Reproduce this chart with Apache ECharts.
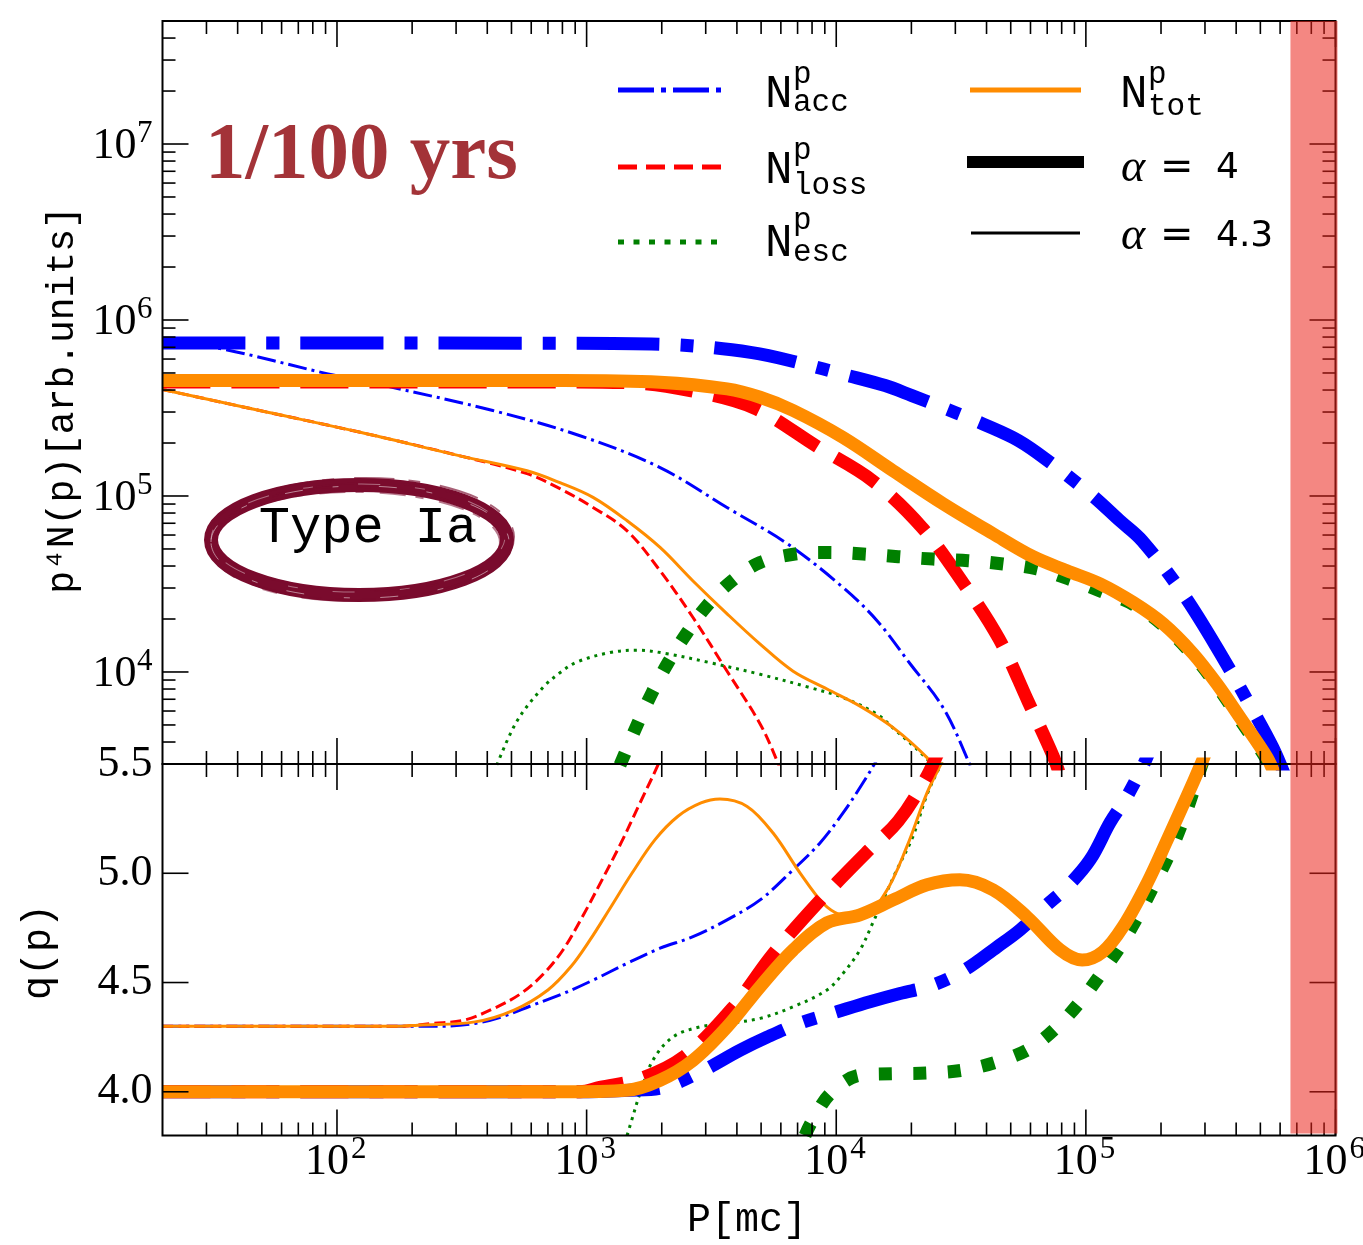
<!DOCTYPE html>
<html>
<head>
<meta charset="utf-8">
<title>Proton spectrum and slope, Type Ia remnant</title>
<script src="https://cdn.jsdelivr.net/npm/echarts@6/dist/echarts.min.js"></script>
<style>
html, body { margin: 0; padding: 0; background: #ffffff; }
#chart { width: 1363px; height: 1245px; }
</style>
</head>
<body>
<div id="chart"></div>
<script>
// ---------- axes ----------
const momentumRange = [20, 1e6];
const spectrumRange = [3e3, 5e7];
const slopeRange = [3.8, 5.5];
const momentumTicks = [1e2, 1e3, 1e4, 1e5, 1e6];
const momentumTickExp = ['2', '3', '4', '5', '6'];
const spectrumTicks = [1e4, 1e5, 1e6, 1e7];
const spectrumTickExp = ['4', '5', '6', '7'];
const slopeTicks = [4.0, 4.5, 5.0, 5.5];
const slopeTickLabels = ['4.0', '4.5', '5.0', '5.5'];
const cutoffBand = [6.6e5, 1e6];

// ---------- p^4 N(p), alpha = 4 ----------
const accSpecA4 = [[20,7.4e5],[800,7.38e5],[2100,7.26e5],[4600,6.53e5],[7360,5.64e5],[10750,4.9e5],[15700,4.24e5],[20100,3.72e5],[25400,3.27e5],[36000,2.68e5],[51000,2.15e5],[63700,1.76e5],[104000,1.03e5],[137000,7.23e4],[168000,5.57e4],[245000,2.78e4],[345000,1.28e4],[468000,6.0e3],[562000,3.7e3],[628000,2.56e3]];
const lossSpecA4 = [[20,4.45e5],[800,4.45e5],[1500,4.4e5],[2600,3.97e5],[4690,3.16e5],[8375,1.91e5],[14000,1.22e5],[22100,6.6e4],[32200,3.21e4],[44900,1.54e4],[58700,6.8e3],[73900,3.33e3],[78900,2.57e3]];
const escSpecA4 = [[1361,2.96e3],[1608,5.16e3],[1830,7.64e3],[2120,1.13e4],[2525,1.67e4],[3035,2.38e4],[3825,3.3e4],[4955,4.19e4],[6840,4.68e4],[9270,4.78e4],[12800,4.68e4],[17700,4.52e4],[24400,4.38e4],[33800,4.29e4],[46600,4.11e4],[63700,3.85e4],[84800,3.39e4],[114000,2.89e4],[155000,2.42e4],[204000,1.84e4],[269000,1.24e4],[336000,8.3e3],[415000,5.35e3],[532000,3.15e3],[573000,2.5e3]];
const totSpecA4 = [[20,4.53e5],[800,4.53e5],[1968,4.43e5],[3655,4.06e5],[4955,3.64e5],[6718,3.06e5],[10650,2.15e5],[16900,1.39e5],[26800,9.04e4],[42500,6.1e4],[61400,4.52e4],[84000,3.76e4],[114000,3.17e4],[155000,2.48e4],[204000,1.88e4],[269000,1.27e4],[336000,8.5e3],[415000,5.5e3],[532000,3.26e3],[573000,2.57e3]];

// ---------- p^4 N(p), alpha = 4.3 ----------
const accSpecA43 = [[20,7.48e5],[34,6.88e5],[91,4.96e5],[168,4.13e5],[421,3.06e5],[941,2.2e5],[1970,1.45e5],[3650,8.6e4],[6360,5.36e4],[10650,3.02e4],[14600,1.95e4],[19800,1.11e4],[26800,6.27e3],[33800,3.12e3],[36000,2.4e3]];
const lossSpecA43 = [[20,4.03e5],[49,3.06e5],[124,2.3e5],[311,1.69e5],[577,1.34e5],[782,1.1e5],[1061,8.61e4],[1453,6.34e4],[1969,3.76e4],[2668,2.04e4],[3654,1.01e4],[4955,5.07e3],[5797,3.12e3],[6060,2.57e3]];
const escSpecA43 = [[437,2.96e3],[526,5.26e3],[668,8.15e3],[782,9.9e3],[915,1.14e4],[1241,1.29e4],[1592,1.33e4],[2100,1.27e4],[3119,1.13e4],[4955,9.7e3],[7854,8.15e3],[10650,7.15e3],[14600,5.75e3],[16900,4.8e3],[23100,3.2e3],[24900,2.7e3]];
const totSpecA43 = [[20,4.03e5],[49,3.06e5],[124,2.3e5],[311,1.69e5],[577,1.39e5],[782,1.19e5],[1061,9.82e4],[1453,7.23e4],[1969,5.1e4],[2668,3.29e4],[3654,2.14e4],[4955,1.44e4],[6718,1.01e4],[9184,8.0e3],[12450,6.4e3],[16900,4.83e3],[23100,3.26e3],[24900,2.74e3]];

// ---------- local slope q(p), alpha = 4 ----------
const accSlopeA4 = [[20,4.0],[941,4.0],[1493,4.007],[1969,4.016],[2845,4.09],[4117,4.19],[5283,4.25],[7166,4.314],[10070,4.366],[13650,4.412],[18000,4.45],[23800,4.484],[32200,4.553],[44100,4.663],[54500,4.741],[69900,4.856],[84100,4.938],[104000,5.062],[125000,5.232],[146000,5.351],[169000,5.489],[181000,5.567]];
const lossSlopeA4 = [[20,4.0],[941,4.0],[1130,4.02],[1640,4.06],[2430,4.157],[3830,4.382],[5585,4.631],[8450,4.866],[13150,5.093],[17700,5.238],[22700,5.429],[26000,5.57]];
const escSlopeA4 = [[7500,3.8],[7960,3.861],[9485,3.992],[12450,4.076],[16980,4.083],[23500,4.086],[32200,4.099],[44100,4.137],[59700,4.198],[76700,4.297],[94800,4.412],[114000,4.534],[137000,4.664],[160000,4.794],[186000,4.939],[217000,5.093],[254000,5.29],[290000,5.49],[302000,5.544]];
const totSlopeA4 = [[20,4.0],[800,4.0],[1453,4.007],[1969,4.053],[2668,4.144],[3654,4.297],[4955,4.481],[6718,4.649],[9184,4.773],[12450,4.81],[16900,4.878],[23100,4.947],[31300,4.97],[42500,4.924],[58100,4.8],[78900,4.649],[96600,4.603],[117000,4.641],[141000,4.756],[176000,4.955],[212000,5.154],[254000,5.352],[287000,5.49],[300000,5.544]];

// ---------- local slope q(p), alpha = 4.3 ----------
const accSlopeA43 = [[20,4.3],[259,4.3],[357,4.313],[458,4.343],[610,4.397],[782,4.443],[1061,4.511],[1453,4.588],[1969,4.657],[2668,4.71],[3654,4.787],[4955,4.878],[6718,5.016],[8611,5.139],[10650,5.276],[12800,5.414],[14580,5.521],[15300,5.567]];
const lossSlopeA43 = [[20,4.3],[179,4.3],[243,4.313],[323,4.328],[426,4.382],[546,4.45],[675,4.542],[804,4.649],[963,4.802],[1153,4.97],[1374,5.139],[1637,5.322],[1950,5.506],[2024,5.557]];
const escSlopeA43 = [[1453,3.8],[1536,3.892],[1637,3.993],[1845,4.145],[2218,4.251],[2845,4.297],[3654,4.313],[4955,4.336],[6718,4.389],[9184,4.466],[10650,4.542],[12450,4.649],[14000,4.772],[15400,4.878],[17500,5.016],[20300,5.169],[23100,5.36],[26800,5.521],[27800,5.567]];
const totSlopeA43 = [[20,4.3],[179,4.3],[211,4.305],[357,4.32],[512,4.374],[700,4.466],[866,4.573],[1032,4.695],[1231,4.833],[1521,5.001],[1880,5.154],[2323,5.261],[2872,5.322],[3421,5.34],[4395,5.306],[5585,5.184],[7166,5.001],[8855,4.863],[10350,4.81],[12450,4.796],[15700,4.909],[19200,5.123],[23100,5.368],[26800,5.521],[27800,5.567]];

// ---------- styling ----------
const BLUE = '#0000ff', RED = '#ff0000', GREEN = '#008000', ORANGE = '#ff8c00';
const SERIF = "'Liberation Serif', 'DejaVu Serif', serif";
const MONO = "'Liberation Mono', 'DejaVu Sans Mono', monospace";
const SANS = "'DejaVu Sans', 'Liberation Sans', sans-serif";
const BADGE = '#7a0b2d';
const THICK = 13, THIN = 3;
const dashThick = { acc: [83, 21, 13, 21], loss: [48, 21], esc: [13, 21.5], tot: 'solid' };
const dashThin = { acc: [19, 5, 3, 5], loss: [11, 5], esc: [3, 5], tot: 'solid' };

function logMinors(range) {
  const out = [];
  const e0 = Math.floor(Math.log10(range[0])), e1 = Math.ceil(Math.log10(range[1]));
  for (let e = e0; e <= e1; e++) {
    for (let k = 2; k <= 9; k++) {
      const v = k * Math.pow(10, e);
      if (v > range[0] * 1.0001 && v < range[1] * 0.9999) out.push(v);
    }
  }
  return out;
}

function curve(name, data, grid, color, width, type) {
  return {
    name, type: 'line', data, xAxisIndex: grid, yAxisIndex: grid,
    showSymbol: false, symbol: 'none', smooth: 0.35,
    clip: true, silent: true, z: 2,
    lineStyle: { color, width, type, cap: 'butt', join: 'round' }
  };
}

// frame, inward ticks on all four sides and tick labels
function frameRenderer(cfg) {
  return function (params, api) {
    const cs = params.coordSys;
    const L = cs.x, R = cs.x + cs.width, T = cs.y, B = cs.y + cs.height;
    const kids = [];
    const seg = (x1, y1, x2, y2) => kids.push({ type: 'line', shape: { x1, y1, x2, y2 }, style: { stroke: '#000', lineWidth: 1.6 } });
    const txt = (text, x, y, size, align) => kids.push({
      type: 'text',
      style: { text, x, y, fill: '#000', font: size + 'px ' + SERIF, align, textAlign: align, verticalAlign: 'middle', textVerticalAlign: 'middle' }
    });
    const px = v => api.coord([v, cfg.yRef])[0];
    const py = v => api.coord([cfg.xRef, v])[1];
    cfg.xMajor.forEach(v => { const x = px(v); seg(x, B, x, B - 26); seg(x, T, x, T + 26); });
    cfg.xMinor.forEach(v => { const x = px(v); seg(x, B, x, B - 13); seg(x, T, x, T + 13); });
    cfg.yMajor.forEach(v => { const y = py(v); seg(L, y, L + 26, y); seg(R, y, R - 26, y); });
    cfg.yMinor.forEach(v => { const y = py(v); seg(L, y, L + 13, y); seg(R, y, R - 13, y); });
    kids.push({ type: 'rect', shape: { x: L, y: T, width: cs.width, height: cs.height }, style: { fill: 'none', stroke: '#000', lineWidth: 2 } });
    if (cfg.yExp) cfg.yMajor.forEach((v, i) => { const y = py(v); txt('10', L - 26, y + 2, 44, 'right'); txt(cfg.yExp[i], L - 10, y - 10, 31, 'right'); });
    if (cfg.yText) cfg.yMajor.forEach((v, i) => txt(cfg.yText[i], L - 10, py(v), 44, 'right'));
    if (cfg.xExp) cfg.xMajor.forEach((v, i) => { const x = px(v); txt('10', x + 12, B + 27, 44, 'right'); txt(cfg.xExp[i], x + 14, B + 14, 31, 'left'); });
    return { type: 'group', children: kids };
  };
}

function bandRenderer(yRef, trimBottom) {
  return function (params, api) {
    const cs = params.coordSys;
    const x0 = api.coord([cutoffBand[0], yRef])[0];
    const x1 = api.coord([cutoffBand[1], yRef])[0];
    return { type: 'rect', shape: { x: x0, y: cs.y, width: x1 - x0 + 2, height: cs.height - trimBottom }, style: { fill: 'rgba(235, 36, 27, 0.55)' } };
  };
}

const topFrame = {
  xMajor: momentumTicks, xMinor: logMinors(momentumRange),
  yMajor: spectrumTicks, yMinor: logMinors(spectrumRange),
  xRef: 1e3, yRef: 1e5, yExp: spectrumTickExp
};
const bottomFrame = {
  xMajor: momentumTicks, xMinor: logMinors(momentumRange),
  yMajor: slopeTicks, yMinor: [],
  xRef: 1e3, yRef: 4.5, yText: slopeTickLabels, xExp: momentumTickExp
};

const series = [
  // upper panel: alpha = 4.3 first, alpha = 4 on top
  curve('acc 4.3', accSpecA43, 0, BLUE, THIN, dashThin.acc),
  curve('loss 4.3', lossSpecA43, 0, RED, THIN, dashThin.loss),
  curve('esc 4.3', escSpecA43, 0, GREEN, THIN, dashThin.esc),
  curve('tot 4.3', totSpecA43, 0, ORANGE, THIN, dashThin.tot),
  curve('acc 4', accSpecA4, 0, BLUE, THICK, dashThick.acc),
  curve('loss 4', lossSpecA4, 0, RED, THICK, dashThick.loss),
  curve('esc 4', escSpecA4, 0, GREEN, THICK, dashThick.esc),
  curve('tot 4', totSpecA4, 0, ORANGE, THICK, dashThick.tot),
  // lower panel
  curve('q acc 4.3', accSlopeA43, 1, BLUE, THIN, dashThin.acc),
  curve('q loss 4.3', lossSlopeA43, 1, RED, THIN, dashThin.loss),
  curve('q esc 4.3', escSlopeA43, 1, GREEN, THIN, dashThin.esc),
  curve('q tot 4.3', totSlopeA43, 1, ORANGE, THIN, dashThin.tot),
  curve('q acc 4', accSlopeA4, 1, BLUE, THICK, dashThick.acc),
  curve('q loss 4', lossSlopeA4, 1, RED, THICK, dashThick.loss),
  curve('q esc 4', escSlopeA4, 1, GREEN, THICK, dashThick.esc),
  curve('q tot 4', totSlopeA4, 1, ORANGE, THICK, dashThick.tot),
  { type: 'custom', xAxisIndex: 0, yAxisIndex: 0, z: 5, silent: true, clip: false, data: [[1e3, 1e5]], renderItem: frameRenderer(topFrame) },
  { type: 'custom', xAxisIndex: 1, yAxisIndex: 1, z: 5, silent: true, clip: false, data: [[1e3, 4.5]], renderItem: frameRenderer(bottomFrame) },
  { type: 'custom', xAxisIndex: 0, yAxisIndex: 0, z: 8, silent: true, clip: false, data: [[1e3, 1e5]], renderItem: bandRenderer(1e5, 0) },
  { type: 'custom', xAxisIndex: 1, yAxisIndex: 1, z: 8, silent: true, clip: false, data: [[1e3, 4.5]], renderItem: bandRenderer(4.5, 2) }
];

// legend pieces: N with superscript p and a subscript
function symbolLabel(x, capY, supY, subY, sub) {
  return [
    { type: 'text', x: x, y: capY, style: { text: 'N', fill: '#000', font: '46px ' + MONO, align: 'left', textAlign: 'left', verticalAlign: 'middle', textVerticalAlign: 'middle' } },
    { type: 'text', x: x + 28, y: supY, style: { text: 'p', fill: '#000', font: '31px ' + MONO, align: 'left', textAlign: 'left', verticalAlign: 'middle', textVerticalAlign: 'middle' } },
    { type: 'text', x: x + 28, y: subY, style: { text: sub, fill: '#000', font: '31px ' + MONO, align: 'left', textAlign: 'left', verticalAlign: 'middle', textVerticalAlign: 'middle' } }
  ];
}
function plainText(text, x, y, font, align, color) {
  return { type: 'text', x, y, style: { text, fill: color || '#000', font, align: align, textAlign: align, verticalAlign: 'middle', textVerticalAlign: 'middle' } };
}
// brushed ring: one solid stroke plus a few offset, slightly tilted streaks
function brushRing(cx, cy, rx, ry) {
  const strokes = [
    { dx: 0, dy: 0, a: rx, b: ry, w: 14, o: 1, rot: 0, dash: null, c: BADGE },
    { dx: 1, dy: -1, a: rx + 6, b: ry + 6, w: 2, o: 0.65, rot: 0.015, dash: [40, 14, 12, 20], c: BADGE },
    { dx: -1, dy: 1, a: rx - 6, b: ry - 6, w: 2, o: 0.55, rot: -0.012, dash: [26, 10, 8, 16], c: BADGE },
    { dx: 2, dy: 2, a: rx + 3, b: ry + 4, w: 1.5, o: 0.5, rot: 0.03, dash: [60, 25, 15, 30], c: BADGE },
    { dx: -2, dy: -1, a: rx - 2, b: ry - 3, w: 1.5, o: 0.45, rot: -0.025, dash: [12, 22, 30, 18], c: BADGE },
    { dx: 1, dy: 2, a: rx + 1, b: ry + 1, w: 1, o: 0.5, rot: 0, dash: [18, 30, 6, 40], c: '#ffffff' },
    { dx: -1, dy: -2, a: rx - 1, b: ry - 1, w: 1, o: 0.4, rot: 0.01, dash: [10, 45, 22, 35], c: '#ffffff' }
  ];
  return strokes.map(s => ({
    type: 'ellipse', x: cx + s.dx, y: cy + s.dy, rotation: s.rot,
    shape: { cx: 0, cy: 0, rx: s.a, ry: s.b },
    style: { fill: 'none', stroke: s.c, lineWidth: s.w, opacity: s.o, lineDash: s.dash }
  }));
}

const graphics = [
  // legend samples
  { type: 'line', shape: { x1: 618, y1: 90, x2: 721, y2: 90 }, style: { stroke: BLUE, lineWidth: 5, lineDash: [36, 7, 5, 7] } },
  { type: 'line', shape: { x1: 618, y1: 167, x2: 721, y2: 167 }, style: { stroke: RED, lineWidth: 5, lineDash: [19, 9] } },
  { type: 'line', shape: { x1: 618, y1: 242, x2: 721, y2: 242 }, style: { stroke: GREEN, lineWidth: 5, lineDash: [6, 9.5] } },
  { type: 'line', shape: { x1: 970, y1: 90, x2: 1081, y2: 90 }, style: { stroke: ORANGE, lineWidth: 5 } },
  { type: 'line', shape: { x1: 967, y1: 162, x2: 1084, y2: 162 }, style: { stroke: '#000', lineWidth: 12 } },
  { type: 'line', shape: { x1: 971, y1: 233, x2: 1080, y2: 233 }, style: { stroke: '#000', lineWidth: 3 } },
  ...symbolLabel(765, 95, 75, 103, 'acc'),
  ...symbolLabel(765, 171, 151, 186, 'loss'),
  ...symbolLabel(765, 244, 221, 253, 'esc'),
  ...symbolLabel(1120, 95, 75, 107, 'tot'),
  plainText('\u03b1', 1121, 169, 'italic 46px ' + SERIF, 'left'),
  plainText('=', 1160, 169, '40px ' + SANS, 'left'),
  plainText('4', 1216, 169, '36px ' + SANS, 'left'),
  plainText('\u03b1', 1121, 237, 'italic 46px ' + SERIF, 'left'),
  plainText('=', 1160, 237, '40px ' + SANS, 'left'),
  plainText('4.3', 1216, 237, '36px ' + SANS, 'left'),
  // epoch label
  plainText('1/100 yrs', 205, 157, 'bold 81px ' + SERIF, 'left', '#a33338'),
  // remnant type badge
  ...brushRing(359, 540, 148, 55),
  plainText('Type Ia', 368, 528, '52px ' + MONO, 'center'),
  // axis titles
  { type: 'text', x: 63, y: 400, rotation: Math.PI / 2, style: { text: 'p\u2074N(p)[arb.units]', fill: '#000', font: '38px ' + MONO, align: 'center', textAlign: 'center', verticalAlign: 'middle', textVerticalAlign: 'middle' } },
  { type: 'text', x: 39, y: 952, rotation: Math.PI / 2, style: { text: 'q(p)', fill: '#000', font: '40px ' + MONO, align: 'center', textAlign: 'center', verticalAlign: 'middle', textVerticalAlign: 'middle' } },
  plainText('P[mc]', 747, 1220, '40px ' + MONO, 'center')
];

const chart = echarts.init(document.getElementById('chart'), null, { renderer: 'canvas' });
chart.setOption({
  animation: false,
  backgroundColor: '#ffffff',
  grid: [
    { left: 162.5, top: 21, width: 1173, height: 743, containLabel: false, outerBoundsMode: 'none' },
    { left: 162.5, top: 764, width: 1173, height: 371.5, containLabel: false, outerBoundsMode: 'none' }
  ],
  xAxis: [
    { gridIndex: 0, type: 'log', logBase: 10, min: momentumRange[0], max: momentumRange[1], show: false },
    { gridIndex: 1, type: 'log', logBase: 10, min: momentumRange[0], max: momentumRange[1], show: false }
  ],
  yAxis: [
    { gridIndex: 0, type: 'log', logBase: 10, min: spectrumRange[0], max: spectrumRange[1], show: false },
    { gridIndex: 1, type: 'value', min: slopeRange[0], max: slopeRange[1], show: false }
  ],
  series: series,
  graphic: { elements: graphics }
});
</script>
</body>
</html>
